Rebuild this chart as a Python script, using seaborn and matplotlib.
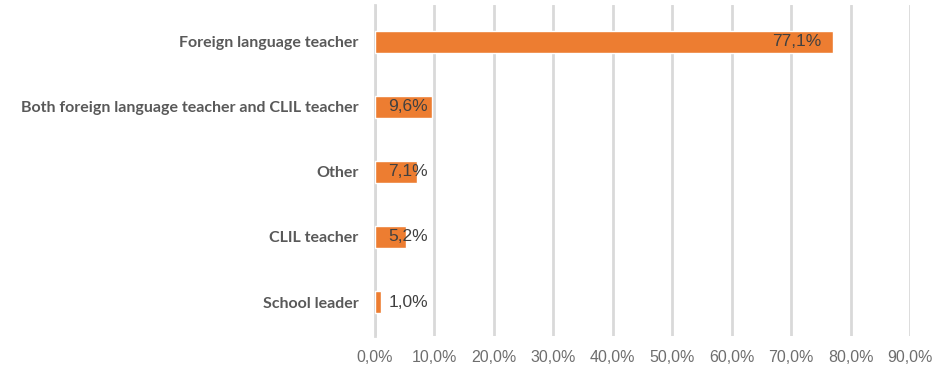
import matplotlib
matplotlib.use("Agg")
import matplotlib.pyplot as plt
import seaborn as sns
import pandas as pd
from matplotlib.ticker import FuncFormatter

roles = [
    "Foreign language teacher",
    "Both foreign language teacher and CLIL teacher",
    "Other",
    "CLIL teacher",
    "School leader",
]
shares = [77.1, 9.6, 7.1, 5.2, 1.0]
tick_values = [0, 10, 20, 30, 40, 50, 60, 70, 80, 90]

df = pd.DataFrame({"role": roles, "share": shares})

sns.set_theme(style="white")
plt.rcParams["font.family"] = ["Liberation Sans", "DejaVu Sans"]

fig = plt.figure(figsize=(9.38, 3.70), dpi=100)
ax = fig.add_axes([375 / 938, 1 - 336 / 370, (910 - 375) / 938, (336 - 5) / 370])

sns.barplot(data=df, x="share", y="role", orient="h", color="#ED7D31",
            saturation=1, width=0.34, ax=ax, zorder=3)

ax.set_xlim(0, 90)
ax.set_ylim(4.523, -0.569)
ax.set_xticks(tick_values)
ax.xaxis.set_major_formatter(FuncFormatter(lambda v, p: f"{v:.1f}%".replace(".", ",")))
ax.tick_params(axis="x", length=0, pad=10, labelsize=11.5, labelcolor="#6E6E6E")
ax.tick_params(axis="y", length=0, pad=12)
for lbl in ax.get_yticklabels():
    lbl.set_fontfamily(["Lato", "DejaVu Sans"])
    lbl.set_fontweight("bold")
    lbl.set_fontsize(11.5)
    lbl.set_color("#595959")

ax.grid(axis="x", color="#D9D9D9", linewidth=2, zorder=0)
ax.grid(axis="y", visible=False)
for side in ["top", "right", "bottom"]:
    ax.spines[side].set_visible(False)
ax.spines["left"].set_color("#D9D9D9")
ax.spines["left"].set_linewidth(2)
ax.set_xlabel("")
ax.set_ylabel("")

# value labels near the inner end of each bar, kept clear of the axis for short bars
for i, v in enumerate(shares):
    xpos = max(v - 2.0, 8.9)
    ax.text(xpos, i, f"{v:.1f}%".replace(".", ","), ha="right", va="center",
            fontsize=12.5, color="#404040", zorder=4)

fig.savefig("out.png", dpi=100)
